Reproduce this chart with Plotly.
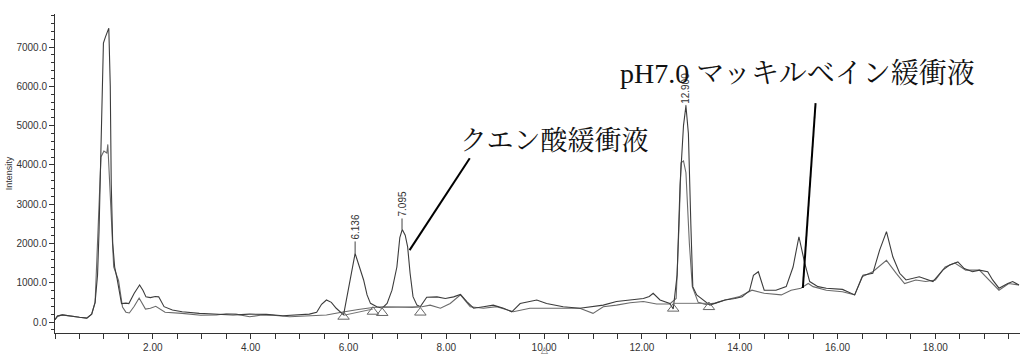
import plotly.graph_objects as go

# ---- data ----
a_x = [0.00, 0.05, 0.15, 0.30, 0.50, 0.65, 0.75, 0.82, 0.87, 0.90, 0.93, 0.96, 0.99, 1.03, 1.06, 1.10,
       1.13, 1.15, 1.18, 1.22, 1.27, 1.32, 1.36, 1.45, 1.51, 1.62, 1.73, 1.80, 1.86, 1.95, 2.05, 2.12,
       2.23, 2.40, 2.60, 2.95, 3.30, 3.64, 3.98, 4.32, 4.66, 5.00, 5.20, 5.35, 5.45, 5.55, 5.65, 5.75,
       5.90, 6.136, 6.20, 6.26, 6.31, 6.38, 6.45, 6.58, 6.69, 6.79, 6.89, 6.99, 7.05, 7.10, 7.16, 7.21,
       7.26, 7.32, 7.40, 7.47, 7.60, 7.81, 7.98, 8.15, 8.29, 8.42, 8.56, 8.76, 8.96, 9.17, 9.34, 9.51,
       9.71, 9.85, 10.05, 10.39, 10.73, 11.00, 11.21, 11.48, 11.76, 12.03, 12.15, 12.23, 12.37, 12.57,
       12.64, 12.72, 12.78, 12.85, 12.90, 12.95, 13.00, 13.04, 13.12, 13.30, 13.39, 13.55, 13.70, 13.90,
       14.05, 14.20, 14.28, 14.38, 14.50, 14.74, 14.95, 15.09, 15.21, 15.33, 15.43, 15.60, 15.77, 16.10,
       16.35, 16.52, 16.72, 16.86, 17.00, 17.13, 17.27, 17.40, 17.67, 17.95, 18.15, 18.29, 18.46, 18.59,
       18.76, 18.90, 19.07, 19.17, 19.30, 19.48, 19.58, 19.71]
a_y = [60, 150, 180, 150, 120, 100, 200, 500, 1200, 2300, 3800, 6000, 7100, 7250, 7350, 7480,
       6000, 3500, 2000, 1400, 1100, 700, 470, 480, 470, 730, 940, 800, 640, 620, 650, 640,
       390, 305, 260, 220, 195, 180, 200, 195, 160, 180, 200, 250, 450, 560, 500, 350,
       180, 1745, 1500, 1300, 1070, 690, 475, 390, 350, 475, 810, 1400, 2150, 2355, 2210, 1915,
       1240, 645, 430, 390, 630, 640, 600, 640, 700, 520, 350, 390, 430, 350, 260, 470,
       520, 560, 470, 390, 350, 390, 430, 520, 560, 600, 650, 730, 560, 470,
       330, 1200, 3500, 5000, 5500, 4800, 2500, 900, 690, 520, 430, 500, 560, 600,
       640, 800, 1190, 1280, 810, 810, 900, 1400, 2170, 1490, 1030, 900, 860, 830,
       690, 1190, 1240, 1830, 2300, 1660, 1240, 1070, 1150, 1030, 1320, 1450, 1530, 1360,
       1280, 1320, 1280, 1070, 860, 980, 1030, 940]

b_x = [0.00, 0.05, 0.15, 0.30, 0.50, 0.65, 0.75, 0.82, 0.87, 0.91, 0.94, 1.00, 1.06, 1.08, 1.11, 1.14,
       1.20, 1.30, 1.38, 1.45, 1.52, 1.62, 1.72, 1.85, 1.95, 2.06, 2.25, 2.60, 2.98, 3.30, 3.50, 3.70,
       3.98, 4.20, 4.40, 4.80, 5.20, 5.55, 5.83, 6.03, 6.20, 6.50, 6.70, 7.00, 7.30, 7.50, 7.67, 7.88,
       8.08, 8.29, 8.49, 8.76, 9.03, 9.37, 9.71, 10.05, 10.39, 10.73, 11.00, 11.21, 11.48, 11.76, 12.03,
       12.30, 12.57, 12.70, 12.76, 12.80, 12.85, 12.90, 12.97, 13.03, 13.15, 13.30, 13.50, 13.70, 14.00,
       14.25, 14.50, 14.85, 15.05, 15.25, 15.40, 15.50, 15.77, 16.10, 16.35, 16.50, 16.72, 17.00, 17.20,
       17.37, 17.60, 17.80, 18.00, 18.20, 18.40, 18.62, 18.90, 19.10, 19.30, 19.50, 19.71]
b_y = [60, 150, 180, 150, 120, 100, 200, 500, 2260, 3500, 4200, 4350, 4300, 4520, 3800, 3100,
       1400, 1050, 380, 250, 230, 400, 610, 330, 350, 400, 250, 220, 170, 180, 210, 200,
       135, 170, 180, 135, 150, 180, 240, 290, 320, 370, 390, 380, 370, 390, 430, 350,
       470, 690, 390, 350, 390, 260, 350, 350, 350, 350, 220, 390, 430, 490, 520,
       460, 460, 600, 2500, 4050, 4100, 3800, 2000, 900, 500, 450, 480, 560, 650,
       810, 730, 690, 810, 860, 980, 900, 810, 770, 690, 1150, 1280, 1570, 1240,
       980, 1070, 1030, 1070, 1400, 1500, 1320, 1320, 1070, 810, 980, 940]

# integration baselines and their start/end markers
base1_x = [5.90, 6.50]
base1_y = [170, 330]
base2_x = [6.69, 7.47]
base2_y = [370, 390]
base3_x = [12.64, 13.37]
base3_y = [475, 475]
tri_x = [5.90, 6.50, 6.69, 7.47, 12.64, 13.37]
tri_y = [135, 262, 230, 240, 340, 380]
# marker drawn under the x axis labels (at this x, below the axis)
under_tri_x = 10.00

# peak labels
peak_x = [6.136, 7.095, 12.900]
peak_y = [1745, 2355, 5500]
peak_labels = ["6.136", "7.095", "12.900"]

# leader lines for the buffer labels
cit_line_x = [7.25, 8.48]
cit_line_y = [1830, 4170]
mci_line_x = [15.29, 15.55]
mci_line_y = [865, 5570]
cit_label = "クエン酸緩衝液"
cit_pos = (8.24, 4600)
mci_label = "pH7.0 マッキルベイン緩衝液"
mci_pos = (11.52, 6330)

x_range = [0, 19.73]
y_range = [-280, 7840]
x_tickvals = [2, 4, 6, 8, 10, 12, 14, 16, 18]
x_ticktext = ["2.00", "4.00", "6.00", "8.00", "10.00", "12.00", "14.00", "16.00", "18.00"]
y_tickvals = [0, 1000, 2000, 3000, 4000, 5000, 6000, 7000]
y_ticktext = ["0.0", "1000.0", "2000.0", "3000.0", "4000.0", "5000.0", "6000.0", "7000.0"]

fig = go.Figure()
fig.add_trace(go.Scatter(x=b_x, y=b_y, mode="lines", line=dict(color="#6a6a6a", width=1.1),
                         showlegend=False, hoverinfo="skip"))
fig.add_trace(go.Scatter(x=a_x, y=a_y, mode="lines", line=dict(color="#3c3c3c", width=1.1),
                         showlegend=False, hoverinfo="skip"))
for bx, by in [(base1_x, base1_y), (base2_x, base2_y), (base3_x, base3_y)]:
    fig.add_trace(go.Scatter(x=bx, y=by, mode="lines", line=dict(color="#777777", width=1),
                             showlegend=False, hoverinfo="skip"))
fig.add_trace(go.Scatter(x=tri_x, y=tri_y, mode="markers", cliponaxis=False,
                         marker=dict(symbol="triangle-up-open", size=10, color="#666666",
                                     line=dict(width=1, color="#666666")),
                         showlegend=False, hoverinfo="skip"))
for lx, ly in [(cit_line_x, cit_line_y), (mci_line_x, mci_line_y)]:
    fig.add_trace(go.Scatter(x=lx, y=ly, mode="lines", line=dict(color="#000000", width=2),
                             showlegend=False, hoverinfo="skip"))

fig.add_annotation(x=under_tri_x, y=y_range[0], yshift=-17, text="△", showarrow=False,
                   font=dict(family="DejaVu Sans", size=9, color="#666666"))

ay_offsets = [-26, -25, -18]
for px, py, lab, ay in zip(peak_x, peak_y, peak_labels, ay_offsets):
    fig.add_annotation(x=px, y=py, text=lab, textangle=-90, showarrow=True, arrowhead=0,
                       arrowwidth=1, arrowcolor="#444444", ax=0, ay=ay,
                       font=dict(family="Liberation Sans, Arial", size=10, color="#333333"))

jp_font = "Liberation Serif, Noto Serif CJK JP, Noto Sans CJK JP, serif"
fig.add_annotation(x=cit_pos[0], y=cit_pos[1], text=cit_label, showarrow=False,
                   xanchor="left", yanchor="middle",
                   font=dict(family=jp_font, size=27, color="#111111"))
fig.add_annotation(x=mci_pos[0], y=mci_pos[1], text=mci_label, showarrow=False,
                   xanchor="left", yanchor="middle",
                   font=dict(family=jp_font, size=28, color="#111111"))

fig.update_layout(
    width=1020, height=356,
    margin=dict(l=55, r=0, t=14, b=23),
    paper_bgcolor="white", plot_bgcolor="white",
    font=dict(family="Liberation Sans, Arial", size=10, color="#333333"),
    xaxis=dict(range=x_range, showgrid=False, zeroline=False, showline=True,
               linecolor="#333333", linewidth=1, ticks="outside", ticklen=5,
               tickcolor="#333333", tickvals=x_tickvals, ticktext=x_ticktext,
               minor=dict(dtick=0.5, tick0=0, ticks="outside", ticklen=5, tickcolor="#333333"),
               tickfont=dict(size=10), automargin=False),
    yaxis=dict(range=y_range, showgrid=False, zeroline=False, showline=True,
               linecolor="#333333", linewidth=1, ticks="outside", ticklen=5,
               tickcolor="#333333", tickvals=y_tickvals, ticktext=y_ticktext,
               minor=dict(dtick=200, tick0=0, ticks="outside", ticklen=3, tickcolor="#333333"),
               tickfont=dict(size=10), automargin=False,
               title=dict(text="Intensity", font=dict(size=9), standoff=2)),
)

fig.write_html("out.html", config={"displayModeBar": False},
               post_script="document.body.style.margin='0px';document.body.style.padding='0px';")
